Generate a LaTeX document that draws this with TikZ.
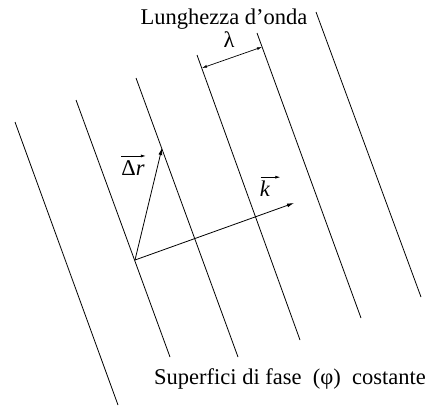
\documentclass[tikz,border=0pt]{standalone}
\usepackage{fontspec}
\setmainfont{Liberation Serif}
\usetikzlibrary{arrows.meta}

\begin{document}
\begin{tikzpicture}[
    x=1pt, y=-1pt,
    front/.style={line width=0.8pt},
    vec/.style={-{Latex[length=7pt,width=4pt]}, line width=0.8pt},
    over/.style={-{Latex[length=5pt,width=3pt]}, line width=0.7pt},
    dim/.style={{Latex[length=5pt,width=3pt]}-{Latex[length=5pt,width=3pt]}, line width=0.7pt},
    lbl/.style={font=\fontsize{22.5}{26}\selectfont, inner sep=0pt, anchor=base},
  ]
  \useasboundingbox (0,0) rectangle (430,409);
  % superfici d'onda
  \foreach \xa/\ya/\xb/\yb [count=\i] in {15/122/118/405, 76/100/170/357, 136/78/238/357,
                                          197/55/300/340, 257/33/361/318, 316/12/421/297}
    \draw[front] (\xa,\ya) coordinate (f\i a) -- (\xb,\yb) coordinate (f\i b);

  % vettori
  \coordinate (o)    at (135,260);
  \coordinate (ktip) at (294,203);
  \coordinate (rtip) at (162,148);
  \draw[vec] (o) -- (ktip);
  \draw[vec] (o) -- (rtip);

  % lunghezza d'onda
  \coordinate (l4) at (202,68);
  \coordinate (l5) at (262,47);
  \draw[dim] (l4) -- (l5);

  \node[lbl] (lung)   at (224,25)  {Lunghezza d’onda};
  \node[lbl] (lambda) at (229,48)  {λ};
  \node[lbl] (dr)     at (133,175) {Δ\textit{r}};
  \node[lbl] (kk)     at (265,196) {\textit{k}};
  \node[lbl] (sup)    at (290,384) {Superfici di fase\ \ (φ)\ \ costante};

  % frecce sopra i simboli
  \draw[over] ([yshift=4pt]dr.north west) -- ([yshift=4pt,xshift=1pt]dr.north east);
  \draw[over] ([yshift=3pt,xshift=1pt]kk.north west) -- ([yshift=3pt,xshift=10pt]kk.north east);
\end{tikzpicture}
\end{document}
